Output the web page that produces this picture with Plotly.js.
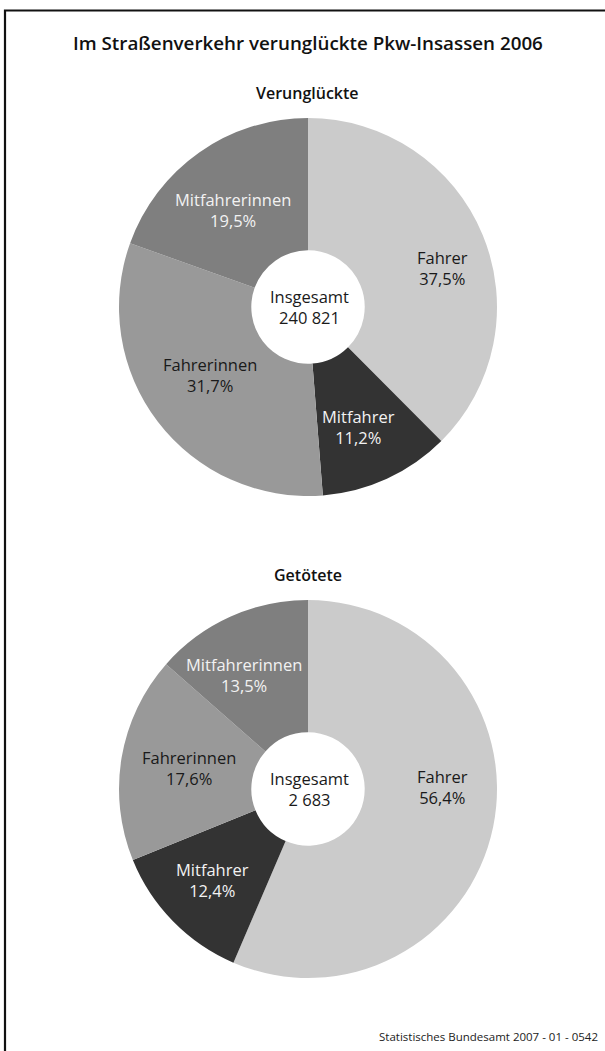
<!DOCTYPE html>
<html>
<head>
<meta charset="utf-8">
<script src="https://cdn.plot.ly/plotly-3.0.1.min.js"></script>
<style>html,body{margin:0;padding:0;background:#fff;}#chart{width:605px;height:1051px;}</style>
</head>
<body>
<div id="chart"></div>
<script>
// ---- data ----
const categories = ["Fahrer", "Mitfahrer", "Fahrerinnen", "Mitfahrerinnen"];
const verunglueckteShares = [37.5, 11.2, 31.7, 19.5];
const getoeteteShares = [56.4, 12.4, 17.6, 13.5];
const verunglueckteTotal = "240 821";
const getoeteteTotal = "2 683";
const chartTitle = "Im Straßenverkehr verunglückte Pkw-Insassen 2006";
const subTitles = ["Verunglückte", "Getötete"];
const centerLabel = "Insgesamt";
const sourceText = "Statistisches Bundesamt 2007 - 01 - 0542";

// ---- styles ----
const sliceColors = ["#cbcbcb", "#333333", "#999999", "#7f7f7f"];
const textColors = ["#1a1a1a", "#f2f2f2", "#1a1a1a", "#f2f2f2"];
const W = 605, H = 1051;
const px = x => x / W;
const py = y => 1 - y / H;
const FONT = "Open Sans, Noto Sans, sans-serif";

function fmt(v) { return v.toFixed(1).replace(".", ",") + "%"; }

// pie geometry (pixels)
const pies = [
  {vals: verunglueckteShares, total: verunglueckteTotal, cx: 308, cy: 307, r: 189,
   labelPos: [[442, 268], [358, 427], [210, 375], [233, 210]], sub: 93},
  {vals: getoeteteShares, total: getoeteteTotal, cx: 308, cy: 789, r: 189,
   labelPos: [[442, 787], [212, 880], [189, 768], [244, 675]], sub: 575}
];

const traces = [];
const annotations = [];
pies.forEach((p, i) => {
  traces.push({
    type: "pie",
    values: p.vals,
    labels: categories,
    sort: false,
    direction: "clockwise",
    rotation: 0,
    hole: 0.30,
    textinfo: "none",
    hoverinfo: "label+percent",
    marker: {colors: sliceColors, line: {width: 0}},
    domain: {x: [px(p.cx - p.r), px(p.cx + p.r)], y: [py(p.cy + p.r), py(p.cy - p.r)]},
    showlegend: false
  });
  categories.forEach((c, k) => {
    annotations.push({
      xref: "paper", yref: "paper",
      x: px(p.labelPos[k][0]), y: py(p.labelPos[k][1]),
      xanchor: "center", yanchor: "middle", showarrow: false,
      text: c + "<br>" + fmt(p.vals[k]),
      font: {family: FONT, size: 16.5, color: textColors[k]}
    });
  });
  annotations.push({
    xref: "paper", yref: "paper", x: px(p.cx + 1), y: py(p.cy),
    xanchor: "center", yanchor: "middle", showarrow: false,
    text: centerLabel + "<br>" + p.total,
    font: {family: FONT, size: 16.5, color: "#1a1a1a"}
  });
  annotations.push({
    xref: "paper", yref: "paper", x: px(308), y: py(p.sub),
    xanchor: "center", yanchor: "middle", showarrow: false,
    text: subTitles[i],
    font: {family: FONT, size: 16, color: "#111", weight: 600}
  });
});

annotations.push({
  xref: "paper", yref: "paper", x: px(308), y: py(43),
  xanchor: "center", yanchor: "middle", showarrow: false,
  text: chartTitle,
  font: {family: FONT, size: 18.8, color: "#111", weight: 600}
});
annotations.push({
  xref: "paper", yref: "paper", x: px(600), y: py(1036),
  xanchor: "right", yanchor: "middle", showarrow: false,
  text: sourceText,
  font: {family: FONT, size: 11.5, color: "#222"}
});

const layout = {
  width: W, height: H,
  margin: {l: 0, r: 0, t: 0, b: 0},
  paper_bgcolor: "#fff", plot_bgcolor: "#fff",
  showlegend: false,
  annotations: annotations,
  shapes: [{
    type: "rect", xref: "paper", yref: "paper",
    x0: px(5), x1: px(620), y0: py(1070), y1: py(10.5),
    line: {color: "#111", width: 2.2}, fillcolor: "rgba(0,0,0,0)"
  }]
};

Plotly.newPlot("chart", traces, layout, {displayModeBar: false, staticPlot: true});
</script>
</body>
</html>
